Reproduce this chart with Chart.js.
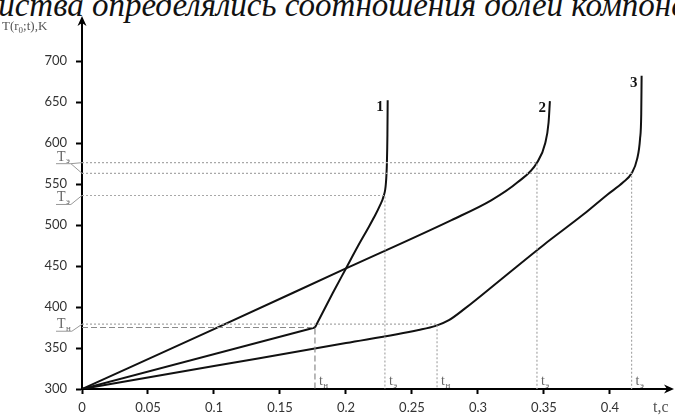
<!DOCTYPE html>
<html>
<head>
<meta charset="utf-8">
<script src="https://cdn.jsdelivr.net/npm/chart.js@4/dist/chart.umd.min.js"></script>
<style>
  html, body { margin: 0; padding: 0; background: #fff; overflow: hidden; }
  #wrap { position: relative; width: 675px; height: 415px; overflow: hidden; }
  #caption {
    position: absolute; left: 0; top: -13px; white-space: nowrap;
    font: italic 33px "Liberation Serif", serif; color: #111;
  }
  canvas { position: absolute; left: 0; top: 0; }
</style>
</head>
<body>
<div id="wrap">
  <div id="caption"><span id="lead">свойства </span>определялись соотношения долей компонентов</div>
  <canvas id="c" width="675" height="415"></canvas>
</div>
<script>
// Axis ticks
const xTicks = [0, 0.05, 0.1, 0.15, 0.2, 0.25, 0.3, 0.35, 0.4];
const yTicks = [300, 350, 400, 450, 500, 550, 600, 650, 700];

// Curve 1: linear heating up to t_н, then fast rise to t_э
const c1aT = [0, 0.1765];
const c1aK = [300, 375];
const c1bT = [0.1765, 0.19, 0.2, 0.209, 0.216, 0.2215, 0.2255, 0.2285, 0.2302, 0.231, 0.2314, 0.2316];
const c1bK = [375, 417, 447, 474, 494, 510, 523, 535, 550, 575, 610, 652];

// Curve 2
const c2T = [0, 0.1, 0.2, 0.28, 0.31, 0.33, 0.3447, 0.351, 0.3535, 0.3545];
const c2K = [300, 373, 447, 506, 530, 552, 576, 600, 625, 651];

// Curve 3
const c3T = [0, 0.1, 0.2, 0.255, 0.268, 0.278, 0.29, 0.32, 0.35, 0.38, 0.398, 0.41, 0.4164, 0.4205, 0.4228, 0.4237, 0.424];
const c3K = [300, 328, 356, 372, 377, 384, 398, 437, 476, 513, 537, 552, 563, 580, 605, 635, 682];

// Marked moments (t) and temperatures (K) with their subscripts
const markT    = [0.1765, 0.2295, 0.269, 0.3447, 0.4164];
const markK    = [375, 536, 379, 576, 563];
const markSub  = ['н', 'э', 'н', 'э', 'э'];
const markDash = [[6, 3], [2, 2], [2, 2], [2, 2], [2, 2]];

// Curve numbers: label, t, K of the top end
const curveNames = ['1', '2', '3'];
const curveTopT  = [0.2316, 0.3545, 0.424];
const curveTopK  = [652, 651, 682];

// line the caption up so that its second word starts near x = 92
const lead = document.getElementById('lead');
document.getElementById('caption').style.left = (92 - lead.getBoundingClientRect().width) + 'px';

const pts = (ts, ks) => ts.map((t, i) => ({ x: t, y: ks[i] }));

const datasets = [];
// guide lines first so the curves sit on top
markT.forEach((t, i) => {
  datasets.push({
    data: [{ x: 0, y: markK[i] }, { x: t, y: markK[i] }, { x: t, y: 300 }],
    borderColor: i === 0 ? '#8a8a8a' : '#a8a8a8', borderWidth: 1.2,
    borderDash: markDash[i], pointRadius: 0, tension: 0, showLine: true
  });
});
const curveStyle = { borderColor: '#111', borderWidth: 2, pointRadius: 0, showLine: true };
datasets.push({ ...curveStyle, data: pts(c1aT, c1aK), tension: 0 });
datasets.push({ ...curveStyle, data: pts(c1bT, c1bK), cubicInterpolationMode: 'monotone' });
datasets.push({ ...curveStyle, data: pts(c2T, c2K), cubicInterpolationMode: 'monotone' });
datasets.push({ ...curveStyle, data: pts(c3T, c3K), cubicInterpolationMode: 'monotone' });

// text with a subscript, returns the width drawn
function subText(ctx, base, sub, x, y, size, family, color) {
  ctx.fillStyle = color;
  ctx.textAlign = 'left';
  ctx.textBaseline = 'alphabetic';
  ctx.font = size + 'px ' + family;
  ctx.fillText(base, x, y);
  const w = ctx.measureText(base).width;
  ctx.font = Math.round(size * 0.62) + 'px ' + family;
  ctx.fillText(sub, x + w + 0.5, y + size * 0.18);
  return w + 0.5 + ctx.measureText(sub).width;
}

const decorations = {
  id: 'decorations',
  afterDraw(chart) {
    const { ctx, chartArea: a, scales: { x, y } } = chart;
    const serif = '"Liberation Serif", serif';
    ctx.save();

    // axis arrows
    ctx.fillStyle = '#000';
    ctx.beginPath();
    ctx.moveTo(a.left, a.top - 4);
    ctx.lineTo(a.left - 4.5, a.top + 6);
    ctx.lineTo(a.left, a.top + 3);
    ctx.lineTo(a.left + 4.5, a.top + 6);
    ctx.closePath();
    ctx.fill();
    ctx.beginPath();
    ctx.moveTo(a.right + 4, a.bottom);
    ctx.lineTo(a.right - 6, a.bottom - 4.5);
    ctx.lineTo(a.right - 3, a.bottom);
    ctx.lineTo(a.right - 6, a.bottom + 4.5);
    ctx.closePath();
    ctx.fill();

    // axis titles
    ctx.fillStyle = '#555';
    ctx.font = '13px ' + serif;
    ctx.textBaseline = 'alphabetic';
    ctx.textAlign = 'left';
    let px = 2;
    ctx.fillText('T(r', px, 30); px += ctx.measureText('T(r').width;
    ctx.font = '9px ' + serif;
    ctx.fillText('0', px, 33); px += ctx.measureText('0').width;
    ctx.font = '13px ' + serif;
    ctx.fillText(';t),K', px, 30);
    ctx.font = '16px ' + serif;
    ctx.fillText('t,c', 653, 412);

    // curve numbers
    ctx.fillStyle = '#111';
    ctx.font = 'bold 15px ' + serif;
    ctx.textAlign = 'right';
    curveNames.forEach((n, i) => {
      ctx.fillText(n, x.getPixelForValue(curveTopT[i]) - 4, y.getPixelForValue(curveTopK[i]) + 11);
    });

    // t labels by the vertical guides
    markT.forEach((t, i) => {
      subText(ctx, 't', markSub[i], x.getPixelForValue(t) + 4, a.bottom - 4, 14, serif, '#666');
    });

    // T labels left of the axis with leader lines
    ctx.strokeStyle = '#999';
    ctx.lineWidth = 1;
    const leader = (label, sub, yLab, targets) => {
      const w = subText(ctx, label, sub, a.left - 25, yLab, 14, serif, '#666');
      const ux0 = a.left - 26, ux1 = a.left - 26 + w + 2;
      ctx.beginPath();
      ctx.moveTo(ux0, yLab + 3);
      ctx.lineTo(ux1, yLab + 3);
      targets.forEach(ty => { ctx.moveTo(ux1, yLab + 3); ctx.lineTo(a.left, ty); });
      ctx.stroke();
    };
    const py = k => y.getPixelForValue(k);
    leader('T', markSub[3], py(markK[3]) - 2, [py(markK[3]), py(markK[4])]);
    leader('T', markSub[1], py(markK[1]) + 6, [py(markK[1])]);
    leader('T', markSub[2], py(markK[2]) + 4, [py(markK[2])]);

    ctx.restore();
  }
};

const tickFont = { family: 'Lato, "Open Sans", sans-serif', size: 13 };

new Chart(document.getElementById('c'), {
  type: 'scatter',
  data: { datasets },
  options: {
    responsive: false,
    animation: false,
    devicePixelRatio: 1,
    layout: { padding: { top: 20, right: 5, left: 0, bottom: 0 } },
    plugins: { legend: { display: false }, tooltip: { enabled: false } },
    scales: {
      x: {
        type: 'linear', min: 0, max: 0.4455,
        afterBuildTicks: s => { s.ticks = xTicks.map(v => ({ value: v })); },
        afterFit: s => { s.height = 26; },
        grid: { drawOnChartArea: false, drawTicks: true, tickLength: 5, tickWidth: 2, tickColor: '#000' },
        border: { display: true, color: '#000', width: 2 },
        ticks: { color: '#333', font: tickFont, padding: 6, maxRotation: 0, autoSkip: false,
                 callback: v => String(v) }
      },
      y: {
        type: 'linear', min: 300, max: 750,
        afterBuildTicks: s => { s.ticks = yTicks.map(v => ({ value: v })); },
        afterFit: s => { s.width = 82; },
        grid: { drawOnChartArea: false, drawTicks: true, tickLength: 6, tickWidth: 2, tickColor: '#000' },
        border: { display: true, color: '#000', width: 2 },
        ticks: { color: '#333', font: tickFont, padding: 9, autoSkip: false,
                 callback: v => String(v) }
      }
    }
  },
  plugins: [decorations]
});
</script>
</body>
</html>
